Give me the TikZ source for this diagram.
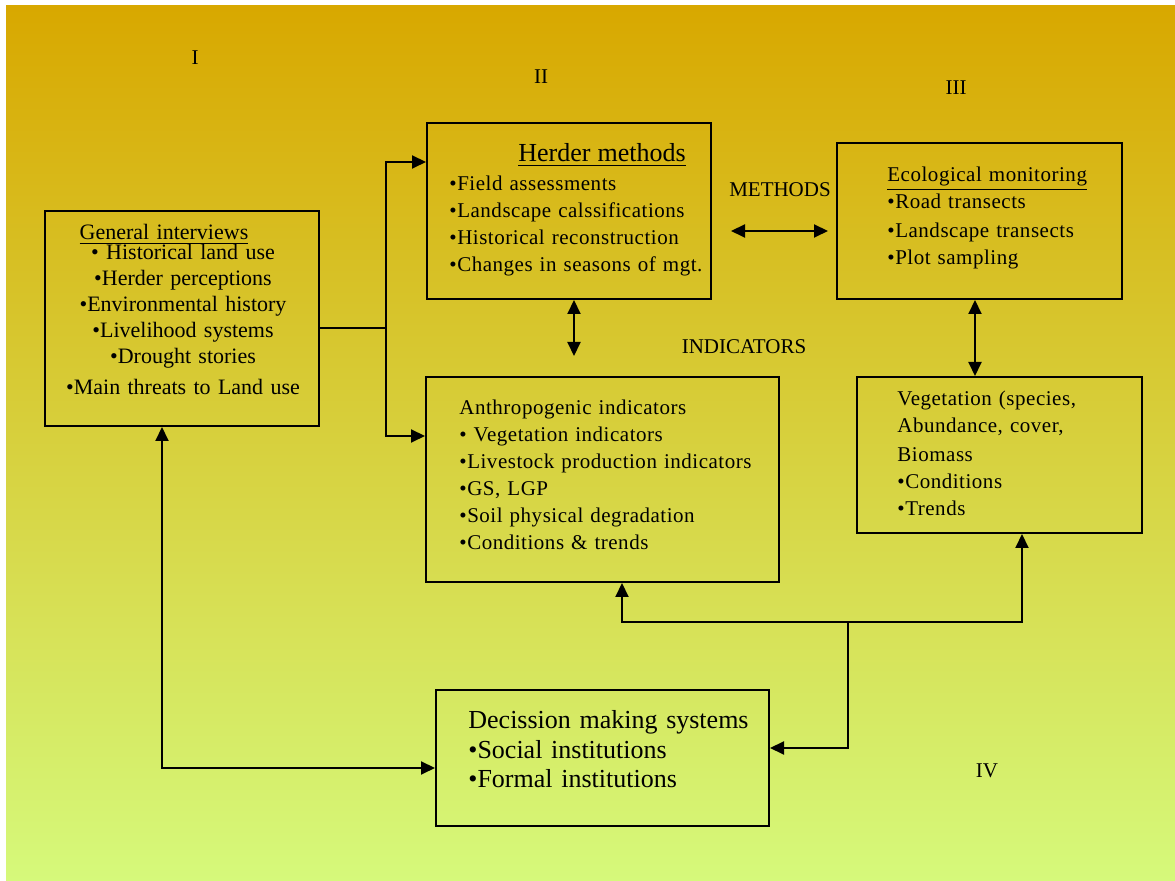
\documentclass[tikz,border=0pt]{standalone}
\usepackage{fontspec}
\setmainfont{Liberation Serif}
\newfontfamily\spacedfont[LetterSpace=2.5]{Liberation Serif}
\usetikzlibrary{arrows.meta,calc,fit}
\definecolor{bgTop}{HTML}{D8A800}
\definecolor{bgBottom}{HTML}{D6F97B}
\definecolor{lineColor}{HTML}{000000}
\newcommand{\fsz}[2]{\fontsize{#1}{#2}\selectfont}

\begin{document}
\begin{tikzpicture}[
  x=0.5pt, y=-0.5pt,
  >={Triangle[length=7pt,width=6.5pt]},
  box/.style={
    draw=lineColor,
    line width=1pt,
    inner sep=0pt
  },
  boxtext/.style={
    anchor=base west,
    align=left,
    inner sep=0pt,
    text=black
  },
  tag/.style={font=\fsz{10.5}{12}, inner sep=0pt},
  link/.style={draw=lineColor, line width=1pt},
  flow/.style={link, ->},
  flowboth/.style={link, <->}
]
% background
\useasboundingbox (0,0) rectangle (1175,881);
\shade[top color=bgTop, bottom color=bgBottom] (6,6) rectangle (1175,881);

% boxes
\node[box, fit={(45,211) (319,426)}] (gen-int) {};
\node[box, fit={(427,123) (711,299)}] (herder) {};
\node[box, fit={(837,143) (1122,299)}] (eco-mon) {};
\node[box, fit={(426,377) (779,582)}] (anthro) {};
\node[box, fit={(857,377) (1142,533)}] (veg) {};
\node[box, fit={(436,690) (769,826)}] (decision) {};

% box texts
\node[boxtext, anchor=base, align=center, text width=135pt, font=\fsz{11}{13}] (gen-int-text) at (183,240)
  {\hspace*{-19pt}\underline{General interviews}\\[-3pt]
   • Historical land use\\
   •Herder perceptions\\
   •Environmental history\\
   •Livelihood systems\\
   •Drought stories\\[2.5pt]
   •Main threats to Land use};
\node[boxtext, text width=135pt, font=\spacedfont\fsz{10.5}{13.5}] (herder-text) at (449,162)
  {\hspace*{34.5pt}{\normalfont\fsz{13}{14}\underline{Herder methods}}\\[1pt]
   •Field assessments\\
   •Landscape calssifications\\
   •Historical reconstruction\\
   •Changes in seasons of mgt.};
\node[boxtext, text width=115pt, font=\spacedfont\fsz{10.5}{13.5}] (eco-mon-text) at (887,182)
  {\underline{Ecological monitoring}\\
   •Road transects\\[1pt]
   •Landscape transects\\
   •Plot sampling};
\node[boxtext, text width=160pt, font=\spacedfont\fsz{10.5}{13.5}] (anthro-text) at (459,415)
  {Anthropogenic indicators\\
   • Vegetation indicators\\
   •Livestock production indicators\\
   •GS, LGP\\
   •Soil physical degradation\\
   •Conditions \& trends};
\node[boxtext, text width=120pt, font=\spacedfont\fsz{10.5}{13.5}] (veg-text) at (897,406)
  {Vegetation (species,\\
   Abundance, cover,\\[1pt]
   Biomass\\
   •Conditions\\
   •Trends};
\node[boxtext, text width=160pt, font=\fsz{13}{15}] (decision-text) at (468,729)
  {Decission making systems\\
   •Social institutions\\[-0.5pt]
   •Formal institutions};

% labels
\node[tag] (lbl-one) at (195,58) {I};
\node[tag] (lbl-two) at (541,77) {II};
\node[tag] (lbl-three) at (956,88) {III};
\node[tag] (lbl-four) at (987,771) {IV};
\node[tag] (lbl-methods) at (780,190) {METHODS};
\node[tag] (lbl-indicators) at (744,347) {INDICATORS};

% connectors
\coordinate (split) at (386,328);
\coordinate (herder-in) at (386,162);
\coordinate (anthro-in) at (386,436);
\draw[link] (gen-int.east |- split) -- (split);
\draw[flow] (split) -- (herder-in) -- (herder.west |- herder-in);
\draw[flow] (split) -- (anthro-in) -- (anthro.west |- anthro-in);

\coordinate (meth-l) at (731,231);
\coordinate (meth-r) at (828,231);
\draw[flowboth] (meth-l) -- (meth-r);

\coordinate (ind-x) at (574,0);
\coordinate (ind-end) at (574,356);
\draw[flowboth] (herder.south -| ind-x) -- (ind-end);

\coordinate (ev-x) at (975,0);
\draw[flowboth] (eco-mon.south -| ev-x) -- (veg.north -| ev-x);

\coordinate (gd) at (162,768);
\draw[flowboth] (gen-int.south -| gd) -- (gd) -- (decision.west |- gd);

\coordinate (hub) at (848,622);
\coordinate (dec-in) at (848,748);
\coordinate (an-up) at (622,622);
\coordinate (veg-up) at (1022,622);
\draw[flow] (hub) -- (dec-in) -- (decision.east |- dec-in);
\draw[flow] (hub) -- (an-up) -- (anthro.south -| an-up);
\draw[flow] (hub) -- (veg-up) -- (veg.south -| veg-up);

\end{tikzpicture}
\end{document}
